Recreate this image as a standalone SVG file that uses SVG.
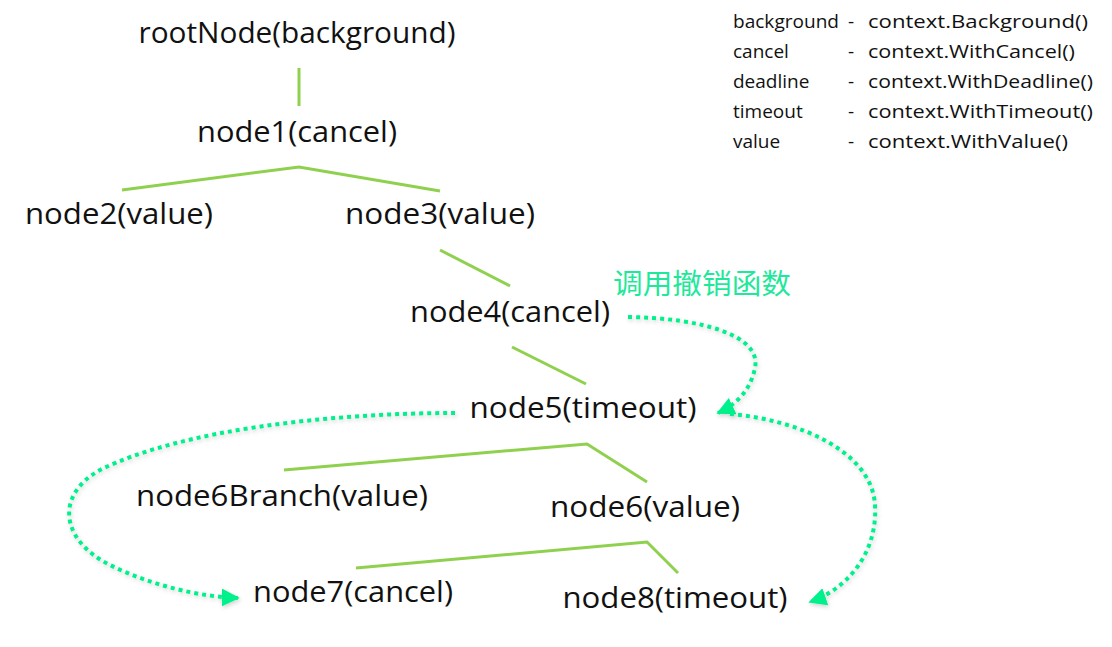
<svg xmlns="http://www.w3.org/2000/svg" width="1112" height="647" viewBox="0 0 1112 647">
<defs>
<style>
.n{font-family:"Open Sans","Liberation Sans",sans-serif;font-size:30px;font-weight:500;fill:#111;text-anchor:middle}
.lg{font-family:"Open Sans","Liberation Sans",sans-serif;font-size:19px;fill:#111}
.cn{font-family:"Noto Sans CJK SC",sans-serif;font-size:28px;fill:#1fe89a}
.tree{fill:none;stroke:#8fd14f;stroke-width:3;stroke-linejoin:miter}
.dot{fill:none;stroke:#00f08c;stroke-width:4;stroke-dasharray:4 4;filter:url(#sh)}
</style>
<filter id="sh" x="-10%" y="-10%" width="120%" height="120%">
<feDropShadow dx="1" dy="2" stdDeviation="2" flood-color="#000" flood-opacity="0.18"/>
</filter>
<marker id="ah" viewBox="0 0 10 10" refX="9" refY="5" markerWidth="4.5" markerHeight="4.5" markerUnits="strokeWidth" orient="auto">
<path d="M0,0 L10,5 L0,10 z" fill="#00f08c"/>
</marker>
</defs>
<rect width="1112" height="647" fill="#fff"/>
<g id="connectors">
<path class="tree" d="M299,68 L299,106"/>
<path class="tree" d="M122,190 L299,167 L440,191"/>
<path class="tree" d="M440,250 L510,286"/>
<path class="tree" d="M512,347 L586,384"/>
<path class="tree" d="M284,470 L587,444 L647,482"/>
<path class="tree" d="M356,568 L647,542 L678,573"/>
<path class="dot" marker-end="url(#ah)" d="M628,317 C700,318 762,335 755,368 C750,392 735,405 718,413"/>
<path class="dot" marker-end="url(#ah)" d="M730,414 C800,420 872,452 875,505 C878,555 845,590 810,602"/>
<path class="dot" marker-end="url(#ah)" d="M455,413 C330,413 180,430 100,470 C55,495 60,540 110,565 C150,585 200,597 238,598"/>
</g>
<g id="rootNode"><text class="n" x="297" y="43" textLength="317" lengthAdjust="spacingAndGlyphs">rootNode(background)</text></g>
<g id="node1"><text class="n" x="297" y="142" textLength="200" lengthAdjust="spacingAndGlyphs">node1(cancel)</text></g>
<g id="node2"><text class="n" x="119" y="224" textLength="188" lengthAdjust="spacingAndGlyphs">node2(value)</text></g>
<g id="node3"><text class="n" x="440" y="224" textLength="190" lengthAdjust="spacingAndGlyphs">node3(value)</text></g>
<g id="node4"><text class="n" x="510" y="322" textLength="200" lengthAdjust="spacingAndGlyphs">node4(cancel)</text></g>
<g id="node5"><text class="n" x="583" y="418" textLength="227" lengthAdjust="spacingAndGlyphs">node5(timeout)</text></g>
<g id="node6Branch"><text class="n" x="282" y="506" textLength="292" lengthAdjust="spacingAndGlyphs">node6Branch(value)</text></g>
<g id="node6"><text class="n" x="645" y="517" textLength="190" lengthAdjust="spacingAndGlyphs">node6(value)</text></g>
<g id="node7"><text class="n" x="353" y="602" textLength="200" lengthAdjust="spacingAndGlyphs">node7(cancel)</text></g>
<g id="node8"><text class="n" x="675" y="608" textLength="225" lengthAdjust="spacingAndGlyphs">node8(timeout)</text></g>
<g id="label"><text class="cn" x="613" y="294" textLength="178" lengthAdjust="spacingAndGlyphs">调用撤销函数</text></g>
<g id="legend">
<text class="lg" x="733" y="28" textLength="106" lengthAdjust="spacingAndGlyphs">background</text>
<text class="lg" x="733" y="58">cancel</text>
<text class="lg" x="733" y="88">deadline</text>
<text class="lg" x="733" y="118">timeout</text>
<text class="lg" x="733" y="148">value</text>
<text class="lg" x="848" y="28">-</text>
<text class="lg" x="848" y="58">-</text>
<text class="lg" x="848" y="88">-</text>
<text class="lg" x="848" y="118">-</text>
<text class="lg" x="848" y="148">-</text>
<text class="lg" x="868" y="28" textLength="220" lengthAdjust="spacingAndGlyphs">context.Background()</text>
<text class="lg" x="868" y="58" textLength="207" lengthAdjust="spacingAndGlyphs">context.WithCancel()</text>
<text class="lg" x="868" y="88" textLength="225" lengthAdjust="spacingAndGlyphs">context.WithDeadline()</text>
<text class="lg" x="868" y="118" textLength="225" lengthAdjust="spacingAndGlyphs">context.WithTimeout()</text>
<text class="lg" x="868" y="148" textLength="200" lengthAdjust="spacingAndGlyphs">context.WithValue()</text>
</g>
</svg>
